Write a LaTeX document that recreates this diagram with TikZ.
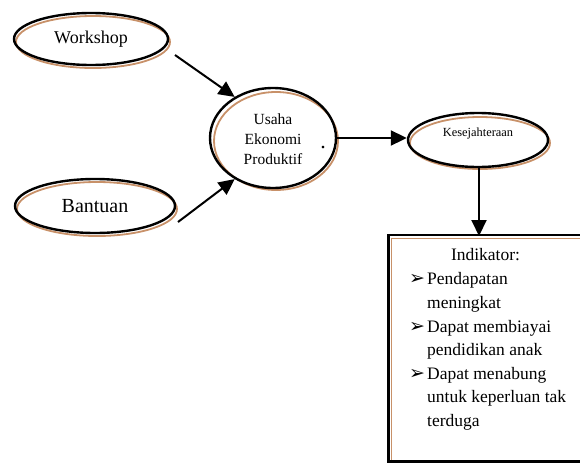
\documentclass[tikz,border=0pt]{standalone}
\usepackage{fontspec}
\setmainfont{Liberation Serif}
\newfontfamily\dejavu{DejaVu Sans}
\usetikzlibrary{shapes.geometric,arrows.meta}
\definecolor{shbrown}{RGB}{200,145,105}
\begin{document}
\begin{tikzpicture}[x=1pt,y=-1pt,
  oval/.style={ellipse,draw=black,line width=2.4pt,inner sep=0pt,align=center},
  shad/.style={draw=shbrown,line width=1.8pt},
  arr/.style={line width=2pt,-{Triangle[length=16pt,width=15pt]}},
  li/.style={anchor=base west,inner sep=0pt,font=\fontsize{17.5}{20}\selectfont},
  bul/.style={anchor=base west,inner sep=0pt,font=\dejavu\fontsize{19}{20}\selectfont}]
\useasboundingbox (0,0) rectangle (580,466);
% shadows
\draw[shad] (93,42) ellipse [x radius=77,y radius=26];
\draw[shad] (97,209) ellipse [x radius=80,y radius=27];
\draw[shad] (276,141) ellipse [x radius=62,y radius=49];
\draw[shad] (480,143) ellipse [x radius=70,y radius=26];
% nodes
\node[oval,minimum width=154pt,minimum height=52pt,font=\fontsize{18}{20}\selectfont] (ws) at (91,39) {Workshop};
\node[oval,minimum width=160pt,minimum height=54pt,font=\fontsize{20}{22}\selectfont] (ba) at (95,206) {Bantuan};
\node[oval,minimum width=126pt,minimum height=100pt] (us) at (273,138) {};
\node[align=center,font=\fontsize{15.5}{20}\selectfont] (ust) at (273,139) {Usaha\\Ekonomi\\Produktif};
\node[anchor=base,font=\fontsize{22}{24}\selectfont,inner sep=0pt] (dot) at (323,148) {.};
\node[oval,minimum width=140pt,minimum height=54pt] (ks) at (478,140) {};
\node[font=\fontsize{12.4}{14}\selectfont] (kst) at (478,134) {Kesejahteraan};
% box
\draw[shbrown,line width=1.5pt] (391,238.5) -- (582,238.5);
\draw[shbrown,line width=1.5pt] (391.5,238) -- (391.5,460);
\draw[black,line width=2.4pt] (589,235) -- (388.5,235) -- (388.5,461.5) -- (589,461.5);
\node[anchor=base,inner sep=0pt,font=\fontsize{17.5}{20}\selectfont] (ind) at (485.5,260) {Indikator:};
\node[bul] (b1) at (409,284) {➢};
\node[li] (l1) at (427,284) {Pendapatan};
\node[li] (l2) at (427,308) {meningkat};
\node[bul] (b2) at (409,332) {➢};
\node[li] (l3) at (427,332) {Dapat membiayai};
\node[li] (l4) at (427,355) {pendidikan anak};
\node[bul] (b3) at (409,379) {➢};
\node[li] (l5) at (427,379) {Dapat menabung};
\node[li] (l6) at (427,402) {untuk keperluan tak};
\node[li] (l7) at (427,426) {terduga};
% arrows
\coordinate (a1) at (175,55);
\coordinate (c1) at (178,222);
\coordinate (k1) at (479,168);
\coordinate (bx) at (479,236);
\draw[arr] (a1) -- (us.133);
\draw[arr] (c1) -- (us.-133);
\draw[arr] (us.east) -- (us.east -| ks.west);
\draw[arr] (k1) -- (bx);
\end{tikzpicture}
\end{document}
